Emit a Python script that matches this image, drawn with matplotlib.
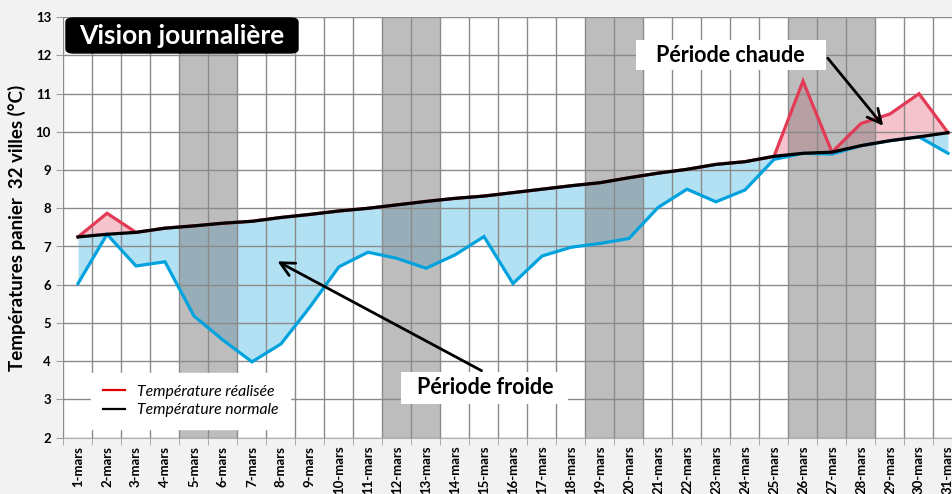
import numpy as np
import matplotlib
matplotlib.use("Agg")
import matplotlib.pyplot as plt
from matplotlib.patches import FancyBboxPatch
from matplotlib.lines import Line2D

# ---------------- data ----------------
days = [f"{d}-mars" for d in range(1, 32)]
realisee = [6.03, 7.87, 6.49, 6.60, 5.18, 4.55, 3.98, 4.45, 5.42, 6.47,
            6.85, 6.69, 6.43, 6.78, 7.26, 6.03, 6.75, 6.98, 7.08, 7.21,
            8.02, 8.50, 8.17, 8.48, 9.28, 11.33, 9.42, 10.22, 10.47, 11.00,
            9.44]
normale = [7.25, 7.32, 7.37, 7.48, 7.54, 7.61, 7.66, 7.76, 7.84, 7.93,
           8.00, 8.09, 8.18, 8.26, 8.32, 8.41, 8.50, 8.59, 8.67, 8.80,
           8.92, 9.02, 9.15, 9.22, 9.36, 9.44, 9.47, 9.64, 9.77, 9.87,
           9.98]
weekend_days = ["5-mars", "6-mars", "12-mars", "13-mars", "19-mars", "20-mars",
                "26-mars", "27-mars", "28-mars"]
yticks = list(range(2, 14))

FONT = "Lato"
W, H = 953, 494
fig = plt.figure(figsize=(W / 100, H / 100), dpi=100)
fig.patch.set_facecolor("#F2F2F2")

def fx(px):
    return px / W

def fy(py):
    return 1 - py / H

left_px, right_px, top_px, bot_px = 63.5, 962.5, 17.3, 437.5
ax = fig.add_axes([fx(left_px), fy(bot_px), fx(right_px - left_px), (bot_px - top_px) / H])
ax.set_facecolor("white")

x = np.arange(len(days))
r = np.array(realisee)
n = np.array(normale)
low = np.minimum(r, n)
high = np.maximum(r, n)

ax.fill_between(x, low, n, color="#B3E1F4", lw=0, zorder=1)
ax.fill_between(x, n, high, color="#F5C3CC", lw=0, zorder=1)

for d in weekend_days:
    i = days.index(d)
    ax.axvspan(i - 0.5, i + 0.5, color="#7D7D7D", alpha=0.5, lw=0, zorder=2)

ax.plot(x, low, color="#00A2DE", lw=2.3, zorder=3, solid_joinstyle="miter")
ax.plot(x, high, color="#E33B55", lw=2.3, zorder=3.2, solid_joinstyle="miter")
ax.plot(x, n, color="black", lw=2.3, zorder=3.4)

ax.set_xlim(-0.5, len(days) - 0.5)
ax.set_ylim(2, 13)

ax.set_axisbelow(False)
ax.set_xticks(x)
ax.set_xticklabels(days, rotation=90, fontsize=9.5, fontweight="bold", family=FONT)
ax.set_xticks(np.arange(-0.5, len(days) + 0.5, 1), minor=True)
ax.tick_params(axis="x", which="major", length=0, pad=6)
ax.tick_params(axis="x", which="minor", length=5, color="#A0A0A0", direction="out")
ax.set_yticks(yticks)
ax.set_yticklabels([str(v) for v in yticks], fontsize=9.5, fontweight="bold", family=FONT)
ax.tick_params(axis="y", length=5, color="#A0A0A0", pad=4)
ax.grid(which="minor", axis="x", color="#8A8A8A", lw=1)
ax.grid(which="major", axis="y", color="#8A8A8A", lw=1)
for s in ax.spines.values():
    s.set_visible(False)
ax.spines["bottom"].set_visible(True)
ax.spines["bottom"].set_color("#B0B0B0")

ax.set_ylabel("Températures panier  32 villes (°C)", fontsize=13.5, fontweight="bold",
              family=FONT, labelpad=7)

# Legend
handles = [Line2D([], [], color="#E00000", lw=1.6), Line2D([], [], color="black", lw=1.6)]
leg = ax.legend(handles, ["Température réalisée", "Température normale"],
                loc="upper left", bbox_to_anchor=(fx(91), fy(373)),
                bbox_transform=fig.transFigure, frameon=True, fancybox=False,
                prop={"family": FONT, "style": "italic", "size": 11.3},
                handlelength=1.4, handletextpad=0.75, labelspacing=0.3,
                borderpad=0.75, borderaxespad=0)
leg.get_frame().set_facecolor("white")
leg.get_frame().set_edgecolor("white")
leg.get_frame().set_alpha(1)
leg.set_zorder(6)

# Title box
box = FancyBboxPatch((fx(66), fy(53)), fx(298) - fx(66), fy(18) - fy(53),
                     boxstyle="round,pad=0,rounding_size=0.008",
                     transform=fig.transFigure, fc="black", ec="black", zorder=10)
fig.patches.append(box)
fig.text(fx(182), fy(36), "Vision journalière", color="white", fontsize=19,
         fontweight="bold", family=FONT, ha="center", va="center", zorder=11)

# Annotations
def px2data(px, py):
    xd = (px - left_px) / 29.0 - 0.5
    yd = 13 - (py - top_px) / ((bot_px - top_px) / 11)
    return xd, yd

ax.annotate("", xy=px2data(275, 260), xytext=px2data(484, 372),
            arrowprops=dict(arrowstyle="->", lw=2, color="black", mutation_scale=25),
            zorder=7)
ax.annotate("", xy=px2data(885, 128), xytext=px2data(826, 56),
            arrowprops=dict(arrowstyle="->", lw=2, color="black", mutation_scale=25),
            zorder=7)

fig.patches.append(FancyBboxPatch((fx(401), fy(404)), fx(568) - fx(401), fy(372) - fy(404),
                                  boxstyle="square,pad=0", transform=fig.transFigure,
                                  fc="white", ec="none", zorder=8))
fig.text(fx(485), fy(388), "Période froide", fontsize=15.5, fontweight="bold", family=FONT,
         ha="center", va="center", zorder=9)
fig.patches.append(FancyBboxPatch((fx(636), fy(70)), fx(826) - fx(636), fy(40) - fy(70),
                                  boxstyle="square,pad=0", transform=fig.transFigure,
                                  fc="white", ec="none", zorder=8))
fig.text(fx(730), fy(55), "Période chaude", fontsize=15.5, fontweight="bold", family=FONT,
         ha="center", va="center", zorder=9)

fig.savefig("out.png", dpi=100, facecolor=fig.get_facecolor())
